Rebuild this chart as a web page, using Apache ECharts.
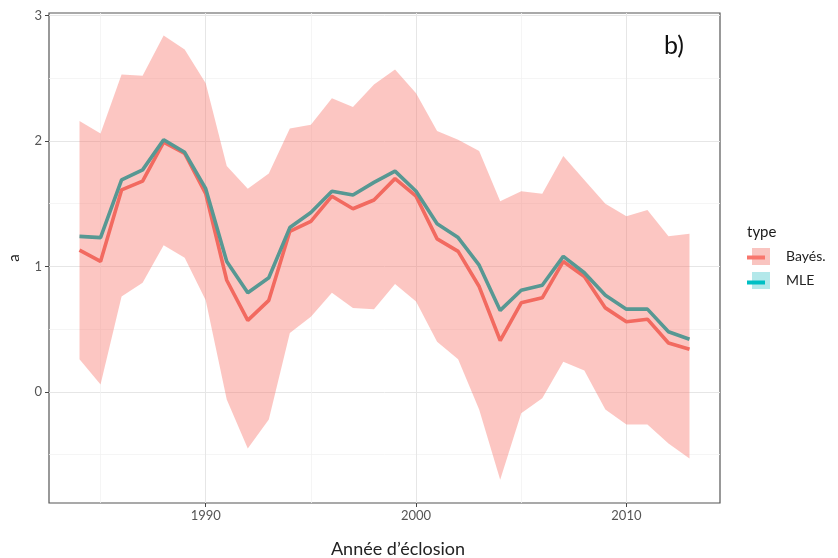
<!DOCTYPE html>
<html>
<head>
<meta charset="utf-8">
<title>a par année d'éclosion</title>
<script src="https://cdn.jsdelivr.net/npm/echarts@6/dist/echarts.min.js"></script>
<style>
  html, body { margin: 0; padding: 0; background: #fff; }
  #main { width: 838px; height: 558px; }
</style>
</head>
<body>
<div id="main"></div>
<script>
// années d'éclosion
var years = [1984, 1985, 1986, 1987, 1988, 1989, 1990, 1991, 1992, 1993,
             1994, 1995, 1996, 1997, 1998, 1999, 2000, 2001, 2002, 2003,
             2004, 2005, 2006, 2007, 2008, 2009, 2010, 2011, 2012, 2013];
// estimation bayésienne (médiane)
var bayes = [1.13, 1.04, 1.61, 1.68, 1.99, 1.90, 1.58, 0.89, 0.57, 0.73,
             1.28, 1.36, 1.56, 1.46, 1.53, 1.70, 1.56, 1.22, 1.12, 0.84,
             0.41, 0.71, 0.75, 1.04, 0.92, 0.67, 0.56, 0.58, 0.39, 0.34];
// maximum de vraisemblance
var mle = [1.24, 1.23, 1.69, 1.77, 2.01, 1.91, 1.62, 1.04, 0.79, 0.91,
           1.31, 1.43, 1.60, 1.57, 1.67, 1.76, 1.60, 1.34, 1.23, 1.01,
           0.65, 0.81, 0.85, 1.08, 0.95, 0.77, 0.66, 0.66, 0.48, 0.42];
// intervalle de crédibilité
var lower = [0.26, 0.06, 0.76, 0.87, 1.17, 1.07, 0.73, -0.06, -0.45, -0.22,
             0.47, 0.60, 0.79, 0.67, 0.66, 0.86, 0.72, 0.40, 0.26, -0.14,
             -0.70, -0.17, -0.05, 0.24, 0.17, -0.14, -0.26, -0.26, -0.41, -0.53];
var upper = [2.16, 2.06, 2.53, 2.52, 2.84, 2.73, 2.46, 1.80, 1.62, 1.74,
             2.10, 2.13, 2.34, 2.27, 2.45, 2.57, 2.38, 2.08, 2.01, 1.92,
             1.52, 1.60, 1.58, 1.88, 1.69, 1.50, 1.40, 1.45, 1.24, 1.26];

var xMajor = [1990, 2000, 2010];
var xMinor = [1985, 1995, 2005];
var yMajor = [0, 1, 2, 3];
var yMinor = [-0.5, 0.5, 1.5, 2.5];

var font = 'Lato, "Open Sans", sans-serif';
var xMin = 1982.55, xMax = 2014.45;
var yMin = -0.885, yMax = 3.02;

var chart = echarts.init(document.getElementById('main'));

var option = {
    animation: false,
    textStyle: { fontFamily: font },
    grid: {
        left: 49, top: 13, right: 118, bottom: 55,
        outerBoundsMode: 'none',
        show: true, borderColor: '#555', borderWidth: 1.2
    },
    xAxis: [{
        type: 'value', min: xMin, max: xMax,
        name: 'Année d’éclosion', nameLocation: 'middle', nameGap: 37,
        nameTextStyle: { fontSize: 18, color: '#222', padding: [0, 0, 0, 27] },
        axisLine: { show: false, onZero: false },
        axisTick: { show: true, length: 4, customValues: xMajor, lineStyle: { color: '#444' } },
        axisLabel: {
            customValues: xMajor, fontSize: 13, color: '#555', margin: 6,
            formatter: function (v) { return String(v); }
        },
        splitLine: { show: true, lineStyle: { color: '#e6e6e6', width: 1 } }
    }, {
        type: 'value', min: xMin, max: xMax, position: 'bottom',
        axisLine: { show: false, onZero: false },
        axisTick: { show: false, customValues: xMinor },
        axisLabel: { show: false },
        splitLine: { show: true, lineStyle: { color: '#f3f3f3', width: 0.8 } }
    }],
    yAxis: [{
        type: 'value', min: yMin, max: yMax,
        name: 'a', nameLocation: 'middle', nameGap: 27, nameRotate: 90,
        nameTextStyle: { fontSize: 15, color: '#222' },
        axisLine: { show: false, onZero: false },
        axisTick: { show: true, length: 4, customValues: yMajor, lineStyle: { color: '#444' } },
        axisLabel: { customValues: yMajor, fontSize: 13, color: '#555', margin: 7 },
        splitLine: { show: true, lineStyle: { color: '#e6e6e6', width: 1 } }
    }, {
        type: 'value', min: yMin, max: yMax, position: 'left',
        axisLine: { show: false, onZero: false },
        axisTick: { show: false, customValues: yMinor },
        axisLabel: { show: false },
        splitLine: { show: true, lineStyle: { color: '#f3f3f3', width: 0.8 } }
    }],
    legend: {
        orient: 'vertical', left: 747, top: 243,
        itemWidth: 18, itemHeight: 17, itemGap: 7,
        icon: 'rect', selectedMode: false,
        textStyle: { fontSize: 14, color: '#222', padding: [0, 0, 0, 11] },
        data: [
            { name: 'Bayés.', itemStyle: { color: '#f9c4c0' } },
            { name: 'MLE', itemStyle: { color: '#b3e8ea' } }
        ]
    },
    graphic: [
        { type: 'rect', left: 747, top: 255.5, z: 100, shape: { width: 18, height: 4 }, style: { fill: '#f8766d' } },
        { type: 'rect', left: 747, top: 280.5, z: 100, shape: { width: 18, height: 4 }, style: { fill: '#00bfc4' } },
        { type: 'text', left: 747, top: 225, style: { text: 'type', fontSize: 15, fill: '#1a1a1a', fontFamily: font } },
        { type: 'text', left: 664, top: 33, style: { text: 'b)', fontSize: 25, fill: '#111', fontFamily: font } }
    ],
    series: [{
        type: 'custom',
        name: 'ribbon',
        silent: true,
        z: 1,
        data: years.map(function (y, i) { return [y, lower[i], upper[i]]; }),
        encode: { x: 0, y: [1, 2] },
        renderItem: function (params, api) {
            if (params.dataIndex !== 0) return;
            var pts = [];
            for (var i = 0; i < years.length; i++) pts.push(api.coord([years[i], upper[i]]));
            for (var j = years.length - 1; j >= 0; j--) pts.push(api.coord([years[j], lower[j]]));
            return { type: 'polygon', shape: { points: pts }, style: { fill: 'rgba(248,118,109,0.42)' } };
        }
    }, {
        type: 'line',
        name: 'Bayés.',
        z: 3,
        data: years.map(function (y, i) { return [y, bayes[i]]; }),
        showSymbol: false,
        lineStyle: { color: '#f26a60', width: 3.6 },
        itemStyle: { color: '#f26a60' }
    }, {
        type: 'line',
        name: 'MLE',
        z: 4,
        data: years.map(function (y, i) { return [y, mle[i]]; }),
        showSymbol: false,
        lineStyle: { color: '#579893', width: 3.6 },
        itemStyle: { color: '#579893' }
    }]
};

chart.setOption(option);
</script>
</body>
</html>
